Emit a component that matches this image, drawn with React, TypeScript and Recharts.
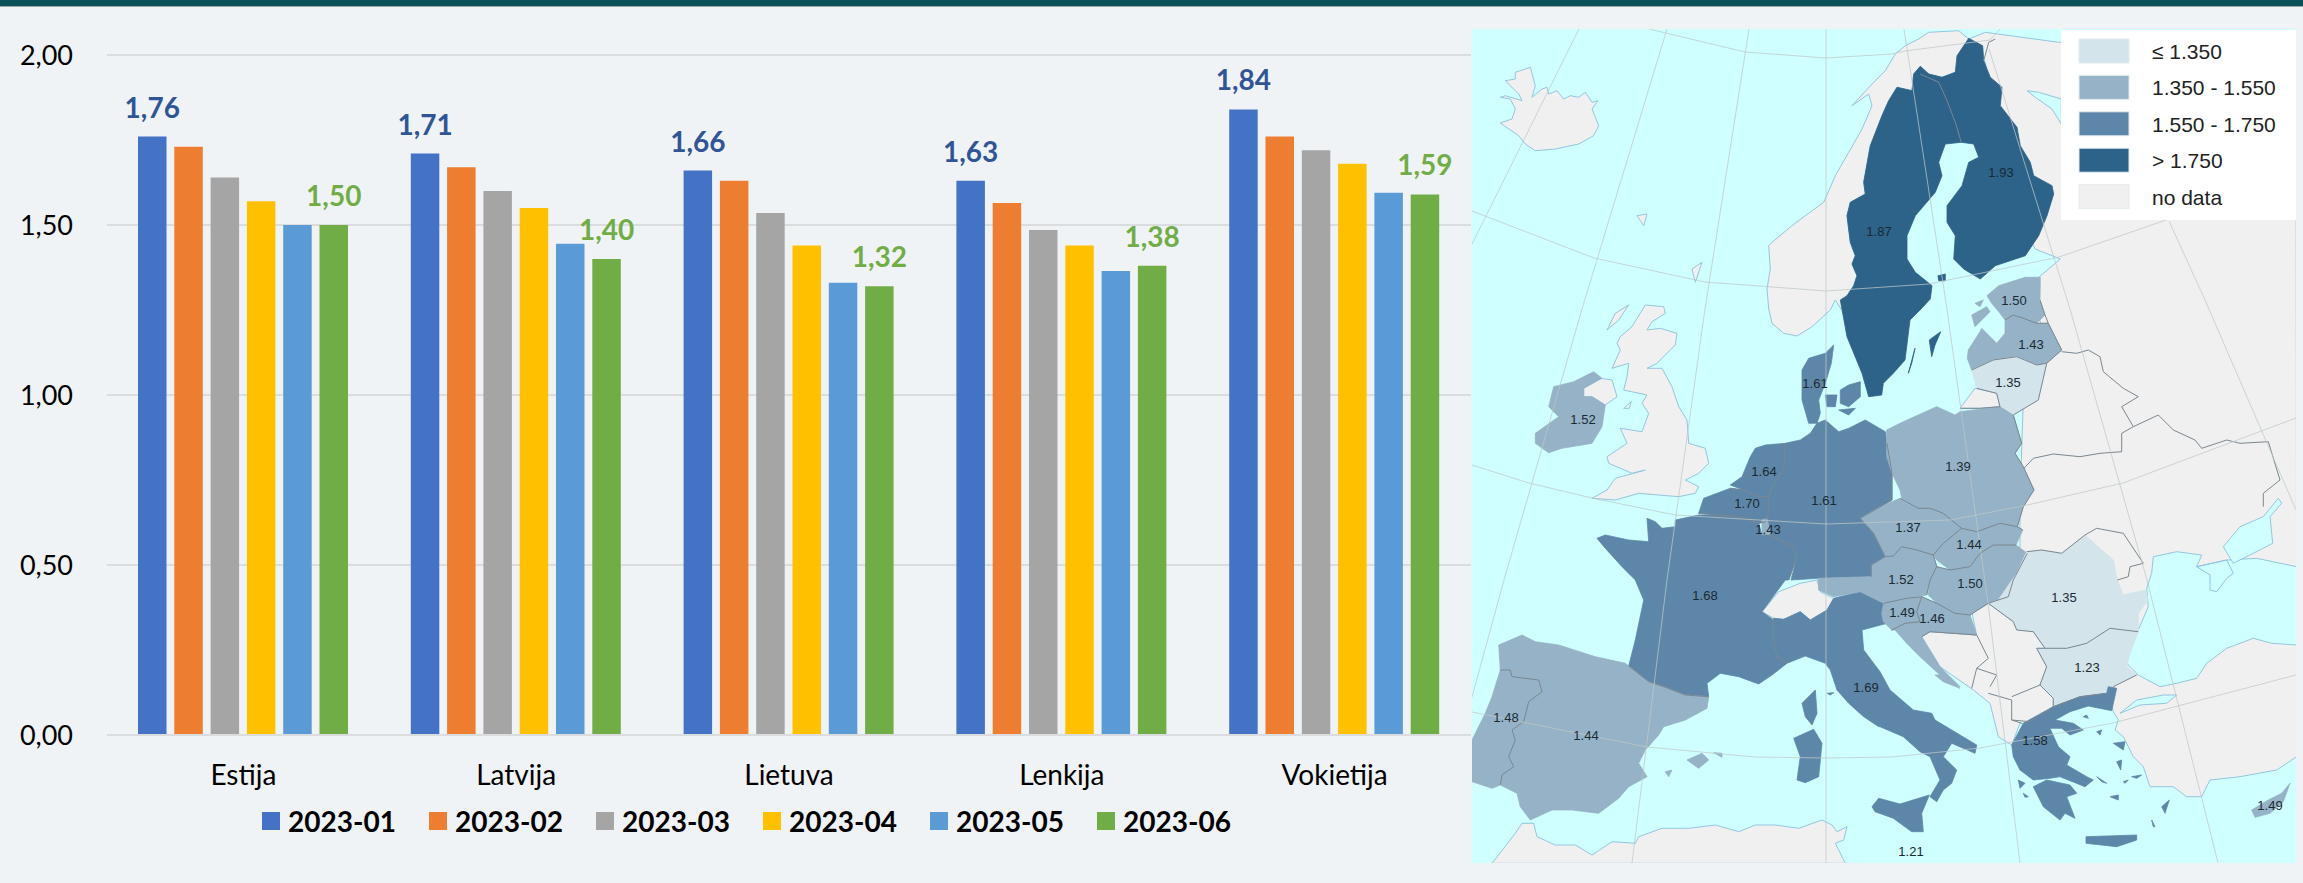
import React from 'react';
import { BarChart, Bar, XAxis, YAxis, CartesianGrid, Legend, LabelList, ScatterChart, Scatter } from 'recharts';

const countries = ['Estija', 'Latvija', 'Lietuva', 'Lenkija', 'Vokietija'];
const months = ['2023-01', '2023-02', '2023-03', '2023-04', '2023-05', '2023-06'];
const jan = [1.76, 1.71, 1.66, 1.63, 1.84];
const feb = [1.73, 1.67, 1.63, 1.565, 1.76];
const mar = [1.64, 1.6, 1.535, 1.485, 1.72];
const apr = [1.57, 1.55, 1.44, 1.44, 1.68];
const may = [1.5, 1.445, 1.33, 1.365, 1.595];
const jun = [1.5, 1.4, 1.32, 1.38, 1.59];
const yTicks = [0, 0.5, 1, 1.5, 2];
const barColors = ['#4472C4', '#ED7D31', '#A5A5A5', '#FFC000', '#5B9BD5', '#70AD47'];

const seriesValues = [jan, feb, mar, apr, may, jun];
const table = countries.map((name, i) => {
  const row: Record<string, string | number> = { name };
  months.forEach((m, s) => { row[m] = seriesValues[s][i]; });
  return row;
});

const comma = (v: number) => v.toFixed(2).replace('.', ',');

// map values as printed on the picture
const mapValues = [1.93, 1.87, 1.5, 1.43, 1.35, 1.61, 1.52, 1.64, 1.7, 1.61, 1.43, 1.39, 1.37, 1.44, 1.52, 1.5, 1.68, 1.49, 1.46, 1.35, 1.23, 1.69, 1.58, 1.48, 1.44, 1.49, 1.21];
const mapLabelX = [2001, 1879, 2014, 2031, 2008, 1815, 1583, 1764, 1747, 1824, 1768, 1958, 1908, 1969, 1901, 1970, 1705, 1902, 1932, 2064, 2087, 1866, 2035, 1506, 1586, 2270, 1911];
const mapLabelY = [172, 231, 300, 344, 382, 383, 419, 471, 503, 500, 529, 466, 527, 544, 579, 583, 595, 612, 618, 597, 667, 687, 740, 717, 735, 805, 851];
const mapPoints = mapValues.map((value, i) => ({ x: mapLabelX[i], y: mapLabelY[i], value }));

const legendLabels = ['≤ 1.350', '1.350 - 1.550', '1.550 - 1.750', '> 1.750', 'no data'];
const legendColors = ['#D3E4EA', '#95B2C6', '#5E86A8', '#2D6289', '#F0F0F0'];

const classColor = (v: number) => {
  if (v <= 1.35) return legendColors[0];
  if (v <= 1.55) return legendColors[1];
  if (v <= 1.75) return legendColors[2];
  return legendColors[3];
};

// hand traced outlines. each helper reads points on a 3x tile of the map and gives page pixels
const tile = (x0: number, y0: number) => (s: string) =>
  s.split(' ').map(p => {
    const [x, y] = p.split(',').map(Number);
    return `${(x0 + x / 3).toFixed(1)},${(y0 + y / 3).toFixed(1)}`;
  }).join(' ');
const A = tile(1472, 29);
const B = tile(1772, 29);
const C = tile(1472, 300);
const D = tile(1880, 300);
const E = tile(1472, 580);
const F = tile(1880, 580);

const landShapes: string[] = [
  A('85,205 100,200 150,215 140,195 100,155 130,150 130,130 160,120 175,115 190,170 180,205 210,180 225,175 230,195 255,185 275,210 295,200 320,205 340,190 360,220 378,215 360,240 380,290 365,320 320,345 250,360 190,365 160,345 140,320 85,282 120,270 130,240 115,210'),
  A('495,560 525,555 515,590'),
  A('660,720 690,700 670,760'),
  // norway
  B('590,30 560,5 470,10 440,30 400,50 370,75 340,125 300,165 240,230 290,195 300,230 270,300 230,370 190,440 155,520 100,560 60,590 0,640') + ' ' +
    A('890,650 895,720 885,780 890,840') + ' ' + C('900,70 935,100 975,108 1020,80 1075,30 1090,0 1115,40') + ' ' +
    B('225,800 245,770 255,740 240,705 250,680 235,640 225,560 235,520 280,495 275,460 295,350 330,260 350,215 375,175 420,185 425,135 445,112 470,135 510,145 550,130'),
  // russia, belarus, ukraine, turkey
  B('590,30 640,10 860,40 1260,40') + ' 2296,35 ' + F('1250,530 1190,570 1080,590 990,600 965,650 920,650 880,620 810,620 790,560 760,530 730,470 705,450 715,420 700,395 690,350 700,320 600,200 500,50') + ' ' +
    D('420,750 420,600 430,300 500,130 470,30') + ' ' + B('800,745 865,690 790,660 700,500 640,100'),
  // great britain
  C('520,15 575,20 580,40 540,65 525,90 565,85 615,100 610,135 555,190 525,205 570,205 600,260 620,320 645,360 650,430 700,445 710,490 680,520 640,540 680,560 670,580 620,590 560,585 500,580 430,600 360,595 405,570 430,535 520,510 480,520 410,490 405,470 465,430 445,385 510,395 530,340 510,310 525,285 455,270 465,230 470,190 420,205 445,150 435,130 445,110 480,80'),
  C('405,90 430,40 470,15 440,60'),
  C('455,325 478,305 472,325'),
  C('335,265 385,235 420,240 435,290 400,315 360,290 335,290'),
  D('240,325 285,265 350,280 360,320 300,325'),
  E('870,95 920,35 985,10 1035,0 1045,35 1085,55 1065,90 1015,120 985,95 935,118 905,115'),
  F('125,170 150,155 290,165 275,95 325,70 400,125 460,155 495,205 470,205 500,260 480,315 520,355 520,380 430,430 420,430 395,495 355,470 330,370 280,330 180,260'),
  E('60,850 130,760 150,730 185,730 195,770 250,795 310,795 360,825 420,785 490,790 500,770 570,745 650,745 730,735 800,755 850,735 910,735 980,745 1050,720 1080,735 1095,755 1125,740 1115,780 1090,790 1120,850'),
];

const waterShapes: string[] = [
  F('775,285 740,250 750,200 775,150 805,80 800,25 815,-20 820,-70 890,-85 965,-75 950,-40 1040,-60 1060,-20 1040,-5 1010,35 990,30 990,-15 950,-40 1040,-60 1130,-65 1250,-40 1250,195 1175,190 1120,175 1040,205 980,250 950,295 890,310 840,320'),
  F('1030,-100 1080,-160 1150,-190 1195,-245 1205,-230 1170,-190 1178,-110 1120,-80 1060,-50'),
  F('720,400 780,375 860,370 890,345 850,345 770,360'),
  B('765,185 800,190 868,210 868,285 840,240 790,205'),
];

const countryShapes: [number, string][] = [
  [1.87, B('375,175 420,185 425,135 445,112 470,135 500,160 525,215 550,280 568,340 520,345 500,400 510,440 490,490 430,560 405,620 405,690 430,730 480,770 475,810') + ' ' + D('120,30 90,60 75,180 40,220 10,250 5,285') + ' ' + C('1190,290 1170,220 1125,110 1105,0') + ' ' + B('225,800 245,770 255,740 240,705 250,680 235,640 225,560 235,520 280,495 275,460 295,350 330,260 350,215')],
  [1.87, D('148,120 182,95 165,135 155,170')],
  [1.87, D('85,220 105,145 95,190')],
  [1.93, B('590,28 632,50 635,95 655,145 690,175 685,230 735,295 745,350 775,400 785,440 840,470 845,495 825,560 800,620 760,680 670,710 625,750 575,720 545,690 550,620 525,580 525,530 570,470 590,400 620,385 605,345 568,340 550,280 525,215 500,160 470,135 510,145 550,130 555,80')],
  [1.93, B('498,740 520,735 520,755 500,755')],
  [1.5, D('321,-13 356,-43 436,-68 481,-68 480,0 495,45 470,70 430,55 400,45 375,60 360,40 335,10')],
  [1.5, D('275,45 320,20 330,35 285,80')],
  [1.5, D('285,10 310,0 300,20')],
  [1.43, D('265,150 300,95 305,85 350,130 375,100 375,60 400,45 430,55 470,70 505,70 545,150 500,190 470,195 410,170 340,180 275,210 262,175')],
  [1.35, D('275,210 340,180 410,170 470,195 500,195 490,235 475,300 400,345 360,320 350,280 290,265')],
  [1.52, C('305,245 365,215 390,235 335,265 335,290 360,290 400,315 390,380 360,430 270,445 230,458 190,430 190,400 260,350 230,320 245,260')],
  [1.61, C('990,270 990,210 1010,175 1060,160 1085,135 1078,190 1060,250 1040,300 1045,340 1035,370 1010,370 990,300')],
  [1.61, C('1105,270 1130,255 1165,245 1165,290 1130,320 1105,310')],
  [1.61, C('1060,285 1095,285 1090,320 1065,320')],
  [1.61, C('1100,330 1150,325 1130,345')],
  [1.61, C('940,430 985,420 1015,400 1035,370 1060,360 1100,395 1130,385 1180,360 1240,395 1245,430 1260,520 1260,600 1165,655 1205,700 1240,770 1198,795 1198,830 1038,835 957,840 975,770 965,740 895,705 880,665 890,640 890,590 905,550 935,510')],
  [1.64, C('835,470 850,445 880,435 940,430 935,510 905,550 890,590 860,590 815,570 775,555 810,530')],
  [1.7, C('685,625 695,595 775,565 815,570 860,590 890,590 890,640 880,665 860,670 800,650 740,645 680,640')],
  [1.68, C('610,660 680,645 740,645 800,650 860,670 870,705 895,705 965,740 975,770 950,840') + ' ' + E('940,0 870,95 905,120 905,180 915,230 945,250 900,285 860,312 800,290 745,280 705,310 710,350 640,345 575,320 530,305 470,258 490,180 515,60 490,0') + ' ' + C('450,800 400,745 375,715 400,705 470,720 530,725 525,655 550,665 570,685 610,680')],
  [1.43, C('870,660 885,655 895,700 870,705')],
  [1.69, E('915,230 905,180 905,115 935,118 985,95 1015,120 1065,90 1085,55 1165,35 1235,70 1230,100 1245,130 1170,150 1175,210 1224,275') + ' ' + F('30,330 100,390 155,400 165,420 290,495 285,520 215,490 190,530 205,545 230,570 215,610 190,630 170,665 150,650 180,600 150,530 120,515 70,470 0,440') + ' ' + E('1220,440 1175,410 1130,370 1095,330 1075,270 1060,250 1000,228 945,250')],
  [1.69, F('-24,680 -4,655 60,672 148,645 125,700 130,755 95,755 40,715 -15,695')],
  [1.69, E('990,370 1030,330 1035,400 1020,435 1000,410')],
  [1.69, E('965,475 1025,448 1050,490 1040,590 1000,608 975,600 985,530')],
  [1.69, E('1065,340 1085,338 1075,345')],
  [1.52, D('-186,835 -26,830 -26,795 16,770 40,768 65,740 110,750 160,765 170,800 150,840 140,885 80,895 11,910 -59,875 -139,890 -184,870')],
  [1.37, D('-59,655 0,620 60,595 115,625 150,625 190,640 245,685 190,730 160,765 110,750 65,740 40,768 16,770 -19,700')],
  [1.39, D('20,390 70,365 170,320 225,345 240,335 360,320 400,345 425,430 405,460 430,500 462,570 430,620 412,680 428,690 360,670 290,695 240,685 190,640 150,625 115,625 65,595 60,570 36,520 20,470')],
  [1.44, D('245,685 290,695 360,670 412,680 428,690 408,735 340,735 300,760 270,800 210,810 170,780 160,765 190,730')],
  [1.5, D('170,800 210,810 270,800 300,760 340,735 408,735 442,760 400,840 385,890 325,910 270,945 225,940 170,910 145,885 150,840')],
  [1.49, F('11,70 80,55 125,50 110,95 120,125 75,130 35,150 10,125 5,100')],
  [1.46, F('125,50 170,70 225,100 270,105 290,165 150,155 125,170 180,260 240,320 180,285 120,230 80,190 45,150 35,150 75,130 120,125 110,95')],
  [1.46, F('165,285 200,285 240,325 190,305')],
  [1.35, F('325,70 400,125 410,150 460,155 495,205 560,205 620,190 690,145 775,155 775,100 805,60 795,30 730,45 712,0 700,-60 615,-135 545,-80 485,-90 440,-85 410,-20 355,60')],
  [1.23, F('470,205 495,205 560,205 620,190 690,145 775,155 750,220 740,260 770,285 700,320 680,345 600,350 520,380 520,355 480,315 500,260')],
  [1.58, F('430,430 520,380 600,350 680,340 685,320 710,325 695,392 625,378 570,395 525,420 580,430 610,450 570,465 545,445 510,445 535,500 570,530 560,555 620,590 640,600 615,620 540,590 510,595 460,600 420,570 400,530 395,495')],
  [1.58, F('460,620 500,600 570,615 590,640 560,650 585,715 555,700 540,720 490,680')],
  [1.58, F('618,770 770,765 770,780 710,800 618,790')],
  [1.58, F('700,490 735,485 730,510')],
  [1.58, F('710,545 725,540 722,570')],
  [1.58, F('845,680 868,660 855,700')],
  [1.58, F('815,720 825,740 820,740')],
  [1.58, F('415,600 435,610 420,625')],
  [1.58, F('690,650 715,645 715,660')],
  [1.58, F('650,590 680,610 665,605')],
  [1.58, F('610,410 620,405 625,415')],
  [1.58, F('650,455 665,450 660,465')],
  [1.58, F('755,590 785,585 770,595')],
  [1.58, F('730,605 745,600 735,610')],
  [1.58, F('430,640 445,650 435,652')],
  [1.44, E('80,195 150,165 190,185 260,195 370,230 460,250 470,258 530,305 575,320 640,345 710,350 705,385 640,420 575,440 560,465 520,510 500,550 525,590 470,620 440,655 380,700 300,690 240,690 175,720 145,680 135,640 85,615 90,585 125,560 110,530 130,480 120,450 155,425 170,365 210,335 200,300 120,290 115,270 85,270')],
  [1.44, E('645,540 690,520 710,540 680,565')],
  [1.44, E('725,518 750,520 750,532')],
  [1.44, E('580,575 600,570 590,590')],
  [1.48, E('85,270 115,270 120,290 200,300 210,335 170,365 155,425 120,450 130,480 110,530 125,560 90,585 85,615 60,625 0,605 0,480 40,400 60,350')],
  [1.49, F('1115,690 1165,660 1205,640 1230,610 1210,665 1170,700 1125,712')],
];

const borderLines: string[] = [
  B('445,135 500,160 525,215 550,280 568,340'),
  B('635,95 650,40 670,30'),
  D('545,155 590,160 625,150 660,170 670,215 730,265 775,290 725,320 760,380 725,400 725,455 660,460 600,470 520,462 460,475 432,505'),
  D('760,380 835,345 880,390 945,420 965,445 1040,420 1080,430 1165,425 1200,540 1150,580 1150,620'),
  D('615,705 650,685 730,700 790,790 750,800 745,830 712,840'),
  E('85,270 115,270 120,290 200,300 210,335 170,365 155,425 120,450 130,480 110,530 125,560 90,585 85,615'),
  E('470,258 530,305 575,320 640,345 710,350'),
  E('905,115 905,180 915,230 945,250'),
  C('870,705 895,705 965,740 975,770 950,840'),
  C('940,430 935,510 905,550 890,590 890,640 880,665'),
  C('775,565 815,570 860,590 890,590'),
  C('680,640 740,645 800,650 860,670 880,665'),
  C('1245,430 1260,520 1260,600 1165,655 1205,700 1240,770 1198,795 1198,830'),
  D('60,595 115,625 150,625 190,640 245,685 290,695 360,670 412,680 428,690'),
  D('16,770 40,768 65,740 110,750 160,765'),
  D('245,685 190,730 160,765 170,800'),
  D('170,800 210,810 270,800 300,760 340,735 408,735'),
  D('170,800 150,840 140,885'),
  D('442,760 400,840 385,890 325,910'),
  D('400,345 425,430 405,460 430,500 462,570 430,620 412,680'),
  D('375,60 400,45 430,55 470,70 505,70'),
  D('275,210 340,180 410,170 470,195 500,190'),
  D('505,70 545,150 500,190 490,235 475,300 400,345'),
  D('480,0 495,45 505,70'),
  D('240,325 300,325 360,320 350,280 290,265'),
  D('440,755 485,750 545,760 615,705'),
  F('125,50 170,70 225,100 270,105 325,70'),
  F('11,70 80,55 125,50 110,95 120,125 75,130 35,150'),
  F('325,70 400,125 410,150 460,155 495,205 560,205 620,190 690,145 775,155'),
  F('495,205 470,205 500,260 480,315'),
  F('290,165 325,235 290,265 275,325'),
  F('290,265 350,285 330,320'),
  F('325,340 395,360 395,420 425,430'),
  F('395,350 480,315 520,355 520,380 450,425 395,420'),
  F('520,380 600,350 680,340'),
  F('700,320 770,285'),
  F('125,170 150,155 290,165'),
];

const graticule: string[] = [
  '1649,29 1745,52 1826,58 1892,54 1905,51 1990,40 2000,29',
  '1472,211 1594,258 1705,282 1826,291 1929,284 2059,257 2169,219',
  '1472,465 1529,483 1592,498 1675,515 1826,524 1950,520 2023,506 2123,483 2296,418',
  '1472,712 1487,715 1647,747 1755,757 1826,758 1892,757 1980,748 2113,723 2296,675',
  '1579,29 1472,244',
  '1667,29 1582,309 1582,309 1504,580 1472,697',
  '1749,29 1705,309 1705,309 1667,580 1632,863',
  '1826,29 1826,863',
  '1904,29 1947,309 1961,410 1988,603 2020,863',
  '1989,49 2070,309 2147,580 2218,863',
  '2169,221 2205,300 2296,510',
];

const ChartLegend = ({ payload }: any) => (
  <div style={{ display: 'flex', marginTop: 9 }}>
    {(payload || []).map((item: any) => (
      <div key={item.value} style={{ width: 167, display: 'flex', alignItems: 'center' }}>
        <span style={{ width: 18, height: 18, background: item.color, marginRight: 8, display: 'block' }} />
        <span style={{ fontSize: 28, fontWeight: 700, color: '#000', fontFamily: 'Lato', lineHeight: '34px' }}>{item.value}</span>
      </div>
    ))}
  </div>
);

const font = 'Lato, sans-serif';
const mapFont = "'Liberation Sans', sans-serif";

const App: React.FC = () => {
  return (
    <div style={{ position: 'relative', width: 2303, height: 883, background: '#F0F3F6', overflow: 'hidden' }}>
      <style>{'body{margin:0}'}</style>
      <div style={{ position: 'absolute', left: 0, top: 0, width: 2303, height: 6, background: '#0B5158', borderBottom: '1px solid #9AA5A8' }} />

      <div style={{ position: 'absolute', left: 0, top: 0 }}>
        <BarChart
          width={1472}
          height={883}
          data={table}
          margin={{ top: 55, right: 1, bottom: 0, left: 0 }}
          barGap={7.8}
          barSize={28.5}
        >
          <CartesianGrid vertical={false} stroke="#DADCDE" strokeWidth={2} />
          <XAxis
            dataKey="name"
            height={60}
            tickLine={false}
            axisLine={{ stroke: '#DADCDE', strokeWidth: 2 }}
            tick={{ fontSize: 28, fontFamily: font, fill: '#000' }}
            tickMargin={24}
          />
          <YAxis
            width={107}
            domain={[0, 2]}
            ticks={yTicks}
            tickFormatter={comma}
            axisLine={false}
            tickLine={false}
            tickMargin={28}
            tick={{ fontSize: 27, fontFamily: font, fill: '#000' }}
          />
          <Legend
            verticalAlign="bottom"
            height={88}
            content={<ChartLegend />}
            wrapperStyle={{ left: 262, width: 1010 }}
          />
          {months.map((m, i) => (
            <Bar key={m} dataKey={m} fill={barColors[i]} isAnimationActive={false}>
              {i === 0 && (
                <LabelList dataKey={m} position="top" offset={19} formatter={comma as any}
                  style={{ fontSize: 28, fontWeight: 700, fontFamily: font, fill: '#2F5597' }} />
              )}
              {i === 5 && (
                <LabelList dataKey={m} position="top" offset={19} formatter={comma as any}
                  style={{ fontSize: 28, fontWeight: 700, fontFamily: font, fill: '#70AD47' }} />
              )}
            </Bar>
          ))}
        </BarChart>
      </div>

      {/* europe map, background shapes first and the printed values on top */}
      <svg width={2303} height={883} style={{ position: 'absolute', left: 0, top: 0 }}>
        <clipPath id="mapClip"><rect x={1472} y={29} width={824} height={834} /></clipPath>
        <g clipPath="url(#mapClip)" strokeLinejoin="round">
          <rect x={1472} y={29} width={824} height={834} fill="#CFFFFF" />
          {landShapes.map((p, i) => (
            <polygon key={i} points={p} fill="#F0F0F0" stroke="#93C6E0" strokeWidth={1} />
          ))}
          {waterShapes.map((p, i) => (
            <polygon key={i} points={p} fill="#CFFFFF" stroke="#93C6E0" strokeWidth={1} />
          ))}
          {countryShapes.map(([v, p], i) => (
            <polygon key={i} points={p} fill={classColor(v)} stroke={classColor(v)} strokeWidth={0.8} />
          ))}
          {borderLines.map((p, i) => (
            <polyline key={i} points={p} fill="none" stroke="#7A8790" strokeWidth={1} />
          ))}
          {graticule.map((p, i) => (
            <polyline key={i} points={p} fill="none" stroke="#BFC8C8" strokeOpacity={0.75} strokeWidth={1} />
          ))}
        </g>
        <rect x={2061} y={30} width={235} height={190} fill="#FFFFFF" />
        {legendColors.map((c, i) => (
          <rect key={c} x={2079} y={39 + i * 36.4} width={50} height={24} fill={c} stroke="#E4EBEF" strokeWidth={1} />
        ))}
        {legendLabels.map((t, i) => (
          <text key={t} x={2152} y={59 + i * 36.4} fontSize={21} fontFamily={mapFont} fill="#222">
            {t}
          </text>
        ))}
      </svg>

      <div style={{ position: 'absolute', left: 0, top: 0 }}>
        <ScatterChart width={2303} height={883} margin={{ top: 0, right: 0, bottom: 0, left: 0 }}>
          <XAxis type="number" dataKey="x" domain={[0, 2303]} hide />
          <YAxis type="number" dataKey="y" domain={[0, 883]} reversed hide />
          <Scatter data={mapPoints} fill="none" shape={() => <g />} isAnimationActive={false}>
            <LabelList dataKey="value" position="center" formatter={(v: any) => Number(v).toFixed(2)}
              style={{ fontSize: 13, fontFamily: mapFont, fill: '#1A2A33' }} />
          </Scatter>
        </ScatterChart>
      </div>
    </div>
  );
};

export default App;
